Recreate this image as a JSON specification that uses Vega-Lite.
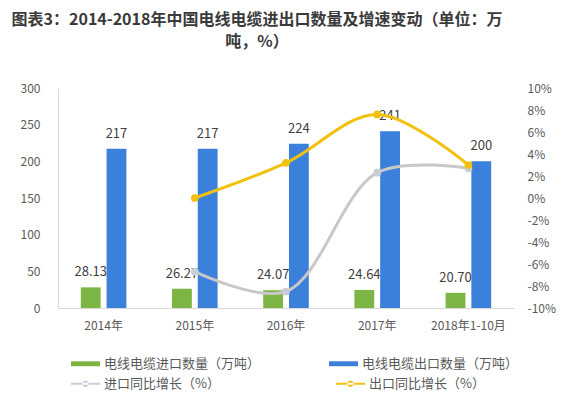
{
  "$schema": "https://vega.github.io/schema/vega-lite/v6.json",
  "width": 456,
  "height": 220,
  "autosize": {"type": "none"},
  "padding": {"left": 58, "top": 88, "right": 66, "bottom": 87},
  "background": "white",
  "config": {
    "font": "Noto Sans CJK SC",
    "view": {"stroke": null},
    "axis": {"labelFont": "Noto Sans CJK SC", "labelColor": "#595959", "labelFontSize": 12, "grid": false}
  },
  "title": {
    "text": ["图表3：2014-2018年中国电线电缆进出口数量及增速变动（单位：万", "吨，%）"],
    "fontSize": 16,
    "fontWeight": "bold",
    "color": "#3a3a3a",
    "anchor": "middle",
    "align": "center",
    "dx": -29,
    "offset": 32,
    "lineHeight": 22,
    "font": "Noto Sans CJK SC"
  },
  "data": {
    "values": [
      {"year": "2014年", "type": "bar", "series": "电线电缆进口数量（万吨）", "value": 28.13},
      {"year": "2015年", "type": "bar", "series": "电线电缆进口数量（万吨）", "value": 26.27},
      {"year": "2016年", "type": "bar", "series": "电线电缆进口数量（万吨）", "value": 24.07},
      {"year": "2017年", "type": "bar", "series": "电线电缆进口数量（万吨）", "value": 24.64},
      {"year": "2018年1-10月", "type": "bar", "series": "电线电缆进口数量（万吨）", "value": 20.70},
      {"year": "2014年", "type": "bar", "series": "电线电缆出口数量（万吨）", "value": 217},
      {"year": "2015年", "type": "bar", "series": "电线电缆出口数量（万吨）", "value": 217},
      {"year": "2016年", "type": "bar", "series": "电线电缆出口数量（万吨）", "value": 224},
      {"year": "2017年", "type": "bar", "series": "电线电缆出口数量（万吨）", "value": 241},
      {"year": "2018年1-10月", "type": "bar", "series": "电线电缆出口数量（万吨）", "value": 200},
      {"year": "2015年", "type": "line", "series": "进口同比增长（%）", "value": -0.067},
      {"year": "2016年", "type": "line", "series": "进口同比增长（%）", "value": -0.085},
      {"year": "2017年", "type": "line", "series": "进口同比增长（%）", "value": 0.023},
      {"year": "2018年1-10月", "type": "line", "series": "进口同比增长（%）", "value": 0.027},
      {"year": "2015年", "type": "line", "series": "出口同比增长（%）", "value": 0.0},
      {"year": "2016年", "type": "line", "series": "出口同比增长（%）", "value": 0.032},
      {"year": "2017年", "type": "line", "series": "出口同比增长（%）", "value": 0.076},
      {"year": "2018年1-10月", "type": "line", "series": "出口同比增长（%）", "value": 0.030}
    ]
  },
  "encoding": {
    "x": {
      "field": "year",
      "type": "nominal",
      "sort": null,
      "scale": {"domain": ["2014年", "2015年", "2016年", "2017年", "2018年1-10月"], "paddingInner": 0.5, "paddingOuter": 0.25},
      "axis": {"title": null, "labelAngle": 0, "domainColor": "#d9d9d9", "tickSize": 0, "labelPadding": 12}
    }
  },
  "layer": [
    {
      "transform": [{"filter": "datum.type === 'bar'"}],
      "encoding": {
        "y": {
          "field": "value",
          "type": "quantitative",
          "scale": {"domain": [0, 300]},
          "axis": {"title": null, "values": [0, 50, 100, 150, 200, 250, 300], "domainColor": "#d9d9d9", "tickSize": 0, "labelPadding": 18}
        },
        "xOffset": {
          "field": "series",
          "type": "nominal",
          "scale": {"domain": ["电线电缆进口数量（万吨）", "电线电缆出口数量（万吨）"], "paddingInner": 0.23, "paddingOuter": 0}
        }
      },
      "layer": [
        {
          "mark": {"type": "bar"},
          "encoding": {
            "color": {
              "field": "series",
              "type": "nominal",
              "scale": {"domain": ["电线电缆进口数量（万吨）", "电线电缆出口数量（万吨）"], "range": ["#7DB545", "#3B80DA"]},
              "legend": {
                "title": null,
                "orient": "none",
                "legendX": 13,
                "legendY": 261,
                "direction": "horizontal",
                "columns": 2,
                "columnPadding": 68,
                "padding": 0,
                "symbolType": "M-1,-0.17H1V0.17H-1Z",
                "symbolSize": 841,
                "symbolStrokeWidth": 0,
                "labelOffset": 4,
                "labelFontSize": 13,
                "labelColor": "#595959",
                "labelFont": "Noto Sans CJK SC",
                "labelLimit": 400
              }
            }
          }
        },
        {
          "transform": [{"filter": "datum.series === '电线电缆进口数量（万吨）'"}],
          "mark": {"type": "text", "dy": -8, "baseline": "bottom", "fontSize": 13, "color": "#404040"},
          "encoding": {"text": {"field": "value", "type": "quantitative", "format": ".2f"}}
        },
        {
          "transform": [{"filter": "datum.series === '电线电缆出口数量（万吨）'"}],
          "mark": {"type": "text", "dy": -8, "baseline": "bottom", "fontSize": 13, "color": "#404040"},
          "encoding": {"text": {"field": "value", "type": "quantitative", "format": "d"}}
        }
      ]
    },
    {
      "transform": [{"filter": "datum.type === 'line'"}],
      "encoding": {
        "y": {
          "field": "value",
          "type": "quantitative",
          "scale": {"domain": [-0.1, 0.1]},
          "axis": {
            "title": null,
            "orient": "right",
            "values": [-0.1, -0.08, -0.06, -0.04, -0.02, 0, 0.02, 0.04, 0.06, 0.08, 0.1],
            "labelExpr": "round(datum.value * 100) + '%'",
            "domain": false,
            "ticks": false,
            "tickSize": 0,
            "labelPadding": 13
          }
        }
      },
      "layer": [
        {
          "transform": [{"filter": "datum.series === '进口同比增长（%）'"}],
          "mark": {"type": "line", "interpolate": "catmull-rom", "strokeWidth": 3, "color": "#C8C8C8"},
          "encoding": {}
        },
        {
          "transform": [{"filter": "datum.series === '出口同比增长（%）'"}],
          "mark": {"type": "line", "interpolate": "catmull-rom", "strokeWidth": 3, "color": "#F2C10F"},
          "encoding": {}
        },
        {
          "mark": {"type": "point", "filled": true, "size": 60, "opacity": 1},
          "encoding": {
            "color": {
              "field": "series",
              "type": "nominal",
              "scale": {"domain": ["进口同比增长（%）", "出口同比增长（%）"], "range": ["#C8CDD6", "#F2C10F"]},
              "legend": {
                "title": null,
                "orient": "none",
                "legendX": 13,
                "legendY": 281,
                "direction": "horizontal",
                "columns": 2,
                "columnPadding": 116,
                "padding": 0,
                "symbolType": "M-1,-0.07H1V0.07H-1Z M-0.22,0A0.22,0.22 0 1,0 0.22,0A0.22,0.22 0 1,0 -0.22,0Z",
                "symbolSize": 841,
                "symbolStrokeWidth": 0,
                "symbolOpacity": 1,
                "labelOffset": 4,
                "labelFontSize": 13,
                "labelColor": "#595959",
                "labelFont": "Noto Sans CJK SC",
                "labelLimit": 400
              }
            }
          }
        }
      ]
    }
  ],
  "resolve": {"scale": {"y": "independent", "color": "independent"}}
}
